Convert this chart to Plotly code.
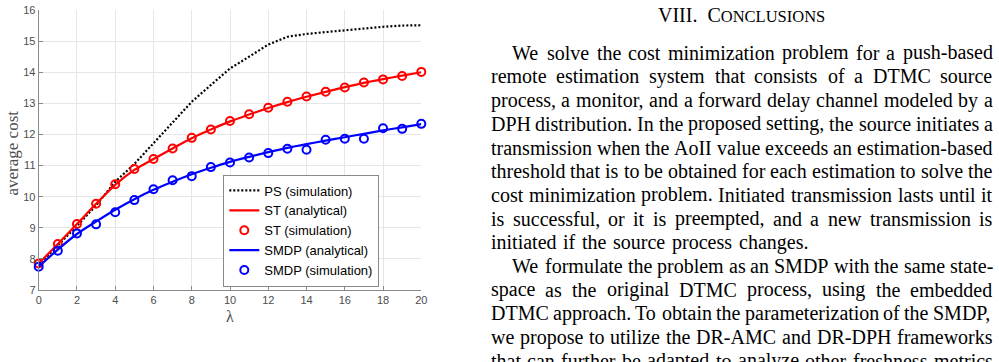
import plotly.graph_objects as go

# ---------------- data ----------------
lam = list(range(21))
ps_sim = [7.80, 8.42, 9.06, 9.72, 10.48, 11.05, 11.72, 12.41, 13.05, 13.59, 14.12,
          14.50, 14.89, 15.14, 15.23, 15.29, 15.35, 15.40, 15.46, 15.50, 15.51]
st_analytical = [7.85, 8.48, 9.12, 9.77, 10.38, 10.86, 11.21, 11.55, 11.88, 12.16, 12.42,
                 12.64, 12.85, 13.04, 13.21, 13.37, 13.52, 13.66, 13.78, 13.89, 14.00]
st_sim = [7.85, 8.48, 9.12, 9.77, 10.40, 10.89, 11.21, 11.55, 11.89, 12.16, 12.43,
          12.65, 12.86, 13.05, 13.22, 13.37, 13.51, 13.67, 13.77, 13.88, 14.01]
smdp_analytical = [7.75, 8.30, 8.80, 9.20, 9.58, 9.92, 10.22, 10.48, 10.72, 10.93, 11.12,
                   11.28, 11.43, 11.57, 11.69, 11.80, 11.91, 12.02, 12.13, 12.23, 12.33]
smdp_sim = [7.75, 8.26, 8.82, 9.11, 9.50, 9.89, 10.24, 10.53, 10.66, 10.95, 11.10,
            11.26, 11.40, 11.54, 11.51, 11.83, 11.86, 11.86, 12.20, 12.18, 12.34]
x_ticks = [0, 2, 4, 6, 8, 10, 12, 14, 16, 18, 20]
y_ticks = [7, 8, 9, 10, 11, 12, 13, 14, 15, 16]

heading = "VIII.\u2002C<span style='font-size:16.5px'>ONCLUSIONS</span>"
# (text, indented, right edge of the line in px)
text_lines = [
    ("We solve the cost minimization problem for a push-based", True, 992.5),
    ("remote estimation system that consists of a DTMC source", False, 992.5),
    ("process, a monitor, and a forward delay channel modeled by a", False, 992.5),
    ("DPH distribution. In the proposed setting, the source initiates a", False, 992.5),
    ("transmission when the AoII value exceeds an estimation-based", False, 992.5),
    ("threshold that is to be obtained for each estimation to solve the", False, 992.5),
    ("cost minimization problem. Initiated transmission lasts until it", False, 992.5),
    ("is successful, or it is preempted, and a new transmission is", False, 992.5),
    ("initiated if the source process changes.", False, 808.3),
    ("We formulate the problem as an SMDP with the same state-", True, 993.0),
    ("space as the original DTMC process, using the embedded", False, 992.5),
    ("DTMC approach. To obtain the parameterization of the SMDP,", False, 992.5),
    ("we propose to utilize the DR-AMC and DR-DPH frameworks", False, 992.5),
    ("that can further be adapted to analyze other freshness metrics", False, 992.5),
]

# ---------------- figure ----------------
FW, FH = 999, 362
X0, X1 = 38.7, 421.3
Y0, Y1 = 10.0, 290.0

fig = go.Figure()
fig.add_trace(go.Scatter(x=lam, y=ps_sim, mode="lines", name="PS (simulation)",
                         line=dict(color="black", width=2.2, dash="2px,2px"), cliponaxis=False))
fig.add_trace(go.Scatter(x=lam, y=st_analytical, mode="lines", name="ST (analytical)",
                         line=dict(color="#ff0000", width=2.2, shape="spline"), cliponaxis=False))
fig.add_trace(go.Scatter(x=lam, y=st_sim, mode="markers", name="ST (simulation)",
                         marker=dict(symbol="circle-open", size=8, color="#ff0000",
                                     line=dict(width=2, color="#ff0000")), cliponaxis=False))
fig.add_trace(go.Scatter(x=lam, y=smdp_analytical, mode="lines", name="SMDP (analytical)",
                         line=dict(color="#0000ff", width=2.2, shape="spline"), cliponaxis=False))
fig.add_trace(go.Scatter(x=lam, y=smdp_sim, mode="markers", name="SMDP (simulation)",
                         marker=dict(symbol="circle-open", size=8, color="#0000ff",
                                     line=dict(width=2, color="#0000ff")), cliponaxis=False))

axis_common = dict(showline=True, linecolor="#8a8a8a", linewidth=1, mirror=False,
                   showgrid=True, gridcolor="#e6e6e6", gridwidth=1, zeroline=False,
                   ticks="inside", ticklen=4, tickcolor="#8a8a8a", automargin=False,
                   tickfont=dict(family="Liberation Sans, Arial", size=11, color="#4d4d4d"))

fig.update_layout(
    width=FW, height=FH, margin=dict(l=0, r=0, t=0, b=0, pad=0),
    paper_bgcolor="white", plot_bgcolor="white",
    xaxis=dict(domain=[X0 / FW, X1 / FW], range=[0, 20], tickvals=x_ticks, **axis_common),
    yaxis=dict(domain=[1 - Y1 / FH, 1 - Y0 / FH], range=[7, 16], tickvals=y_ticks, **axis_common),
    showlegend=True,
    legend=dict(x=223.3 / FW, y=1 - 174.5 / FH, xanchor="left", yanchor="top",
                bgcolor="white", bordercolor="#8a8a8a", borderwidth=1,
                font=dict(family="Liberation Sans, Arial", size=13, color="black"),
                tracegroupgap=0),
)

annotations = []
# axis titles
annotations.append(dict(x=230 / FW, y=1 - 316.5 / FH, xref="paper", yref="paper", text="λ",
                        showarrow=False, font=dict(family="Liberation Serif, serif", size=16, color="#4d4d4d"),
                        xanchor="center", yanchor="middle"))
annotations.append(dict(x=11.5 / FW, y=1 - 153 / FH, xref="paper", yref="paper", text="average cost",
                        showarrow=False, textangle=-90,
                        font=dict(family="Liberation Serif, serif", size=17, color="#4d4d4d"),
                        xanchor="center", yanchor="middle"))

# ---------------- text column ----------------
CW = {' ': 250, ',': 250, '.': 250, '-': 333, '(': 333, ')': 333,
      'a': 444, 'b': 500, 'c': 444, 'd': 500, 'e': 444, 'f': 333, 'g': 500, 'h': 500, 'i': 278,
      'j': 278, 'k': 500, 'l': 278, 'm': 778, 'n': 500, 'o': 500, 'p': 500, 'q': 500, 'r': 333,
      's': 389, 't': 278, 'u': 500, 'v': 500, 'w': 722, 'x': 500, 'y': 500, 'z': 444,
      'A': 722, 'B': 667, 'C': 667, 'D': 722, 'E': 611, 'F': 556, 'G': 722, 'H': 722, 'I': 333,
      'J': 389, 'K': 722, 'L': 611, 'M': 889, 'N': 722, 'O': 722, 'P': 556, 'Q': 722, 'R': 667,
      'S': 556, 'T': 611, 'U': 722, 'V': 722, 'W': 944, 'X': 722, 'Y': 722, 'Z': 611}
FS = 20
LEFT, INDENT = 490.7, 21.6
BASE0, STEP = 59.5, 23.7
BASE_OFF = 6.75  # baseline below box centre


def wwidth(s):
    return sum(CW.get(c, 500) for c in s) * FS / 1000.0


serif = dict(family="Liberation Serif, Times New Roman, serif", size=FS, color="black")
annotations.append(dict(x=741.6 / FW, y=1 - (21.5 - BASE_OFF) / FH, xref="paper", yref="paper",
                        text=heading, showarrow=False, font=serif, xanchor="center",
                        yanchor="middle", borderpad=0, borderwidth=0))

for i, (line, indent, right) in enumerate(text_lines):
    words = line.split()
    left = LEFT + (INDENT if indent else 0)
    widths = [wwidth(w) for w in words]
    gap = (right - left - sum(widths)) / (len(words) - 1)
    base = BASE0 + i * STEP
    x = left
    for w, wd in zip(words, widths):
        annotations.append(dict(x=x / FW, y=1 - (base - BASE_OFF) / FH, xref="paper", yref="paper",
                                text=w, showarrow=False, font=serif, xanchor="left",
                                yanchor="middle", borderpad=0, borderwidth=0))
        x += wd + gap

fig.update_layout(annotations=annotations)
fig.write_html("out.html")
